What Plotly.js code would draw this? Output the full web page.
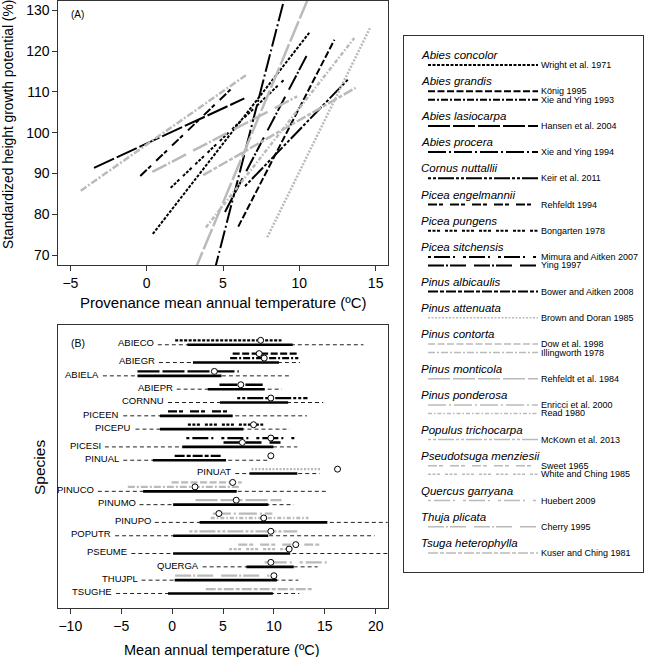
<!DOCTYPE html>
<html>
<head>
<meta charset="utf-8">
<script src="https://cdn.plot.ly/plotly-3.0.1.min.js"></script>
<style>
  body { margin: 0; background: #fff; }
  #plot { width: 650px; height: 657px; }
</style>
</head>
<body>
<div id="plot"></div>
<script>
// species (panel B rows, legend headers)
var speciesCodes = ['ABIECO', 'ABIEGR', 'ABIELA', 'ABIEPR', 'CORNNU', 'PICEEN', 'PICEPU', 'PICESI', 'PINUAL',
                    'PINUAT', 'PINUCO', 'PINUMO', 'PINUPO', 'POPUTR', 'PSEUME', 'QUERGA', 'THUJPL', 'TSUGHE'];
var speciesNames = ['Abies concolor', 'Abies grandis', 'Abies lasiocarpa', 'Abies procera', 'Cornus nuttallii',
                    'Picea engelmannii', 'Picea pungens', 'Picea sitchensis', 'Pinus albicaulis', 'Pinus attenuata',
                    'Pinus contorta', 'Pinus monticola', 'Pinus ponderosa', 'Populus trichocarpa',
                    'Pseudotsuga menziesii', 'Quercus garryana', 'Thuja plicata', 'Tsuga heterophylla'];

// species climate range (thin dashed) and core range (thick line), deg C
var rangeLo = [-1.4, -1.3, -6.8, 0.45, -0.4, -4.8, -3.6, -6.6, -4.8, 6.2, -7.3, -3.2, -1.7, -5.6, -4.0, 3.0, -3.0, -5.5];
var rangeHi = [18.8, 12.55, 11.75, 10.8, 14.85, 13.25, 11.55, 12.3, 9.55, 14.5, 15.1, 11.95, 22, 19.9, 22, 14.3, 12.4, 12.5];
var coreLo  = [1.5, 2.05, -3.4, 3.5, 4.7, -1.2, -1.2, 1.0, -1.9, 7.6, -2.85, 0.1, 2.7, 0.1, 0.1, 7.3, 0.25, -0.4];
var coreHi  = [11.85, 10.5, 4.85, 9.1, 11.4, 5.95, 7.0, 9.95, 5.3, 12.3, 6.35, 9.45, 15.25, 9.45, 11.6, 11.95, 10.3, 9.9];

// studies
var studies = ['Wright et al. 1971', 'König 1995', 'Xie and Ying 1993', 'Hansen et al. 2004', 'Xie and Ying 1994',
               'Keir et al. 2011', 'Rehfeldt 1994', 'Bongarten 1978', 'Mimura and Aitken 2007', 'Ying 1997',
               'Bower and Aitken 2008', 'Brown and Doran 1985', 'Dow et al. 1998', 'Illingworth 1978',
               'Rehfeldt et al. 1984', 'Enricci et al. 2000', 'Read 1980', 'McKown et al. 2013', 'Sweet 1965',
               'White and Ching 1985', 'Huebert 2009', 'Cherry 1995', 'Kuser and Ching 1981'];
var studySpecies = [0, 1, 1, 2, 3, 4, 5, 6, 7, 7, 8, 9, 10, 10, 11, 12, 12, 13, 14, 14, 15, 16, 17];
var studyLo  = [0.3, 5.95, 5.7, -3.4, 4.65, 6.4, -0.4, 1.55, 1.4, 5.05, 0.25, 7.8, -0.05, -4.35, 2.3, 4.0, 3.8, 1.7, 6.5, 5.6, 9.1, 0.3, 3.3];
var studyHi  = [10.75, 12.4, 12.4, 6.55, 8.9, 13.3, 5.5, 8.95, 12.15, 10.65, 4.85, 14.55, 6.85, 6.6, 10.75, 9.85, 13.4, 12.3, 14.7, 11.95, 15.2, 9.55, 13.85];
var studyOpt = [8.7, 8.55, 9.05, 4.15, 6.75, 9.7, null, 8.0, 9.7, 6.9, 9.7, 16.25, 5.95, 2.25, 6.3, 4.6, 9.0, 9.7, 12.15, 11.5, 9.7, 10.0, null];

// panel A: height growth response lines (study index, end points)
var respStudy = [0, 1, 3, 4, 5, 6, 7, 9, 11, 13, 14, 16, 22, 21];
var respX0 = [0.4, 6.0, -3.45, 4.4, 6.44, -0.42, 1.57, 5.13, 7.9, -4.32, 3.1, 3.88, 3.7, 0.37];
var respY0 = [75.2, 77.0, 91.4, 65.6, 86.9, 89.4, 86.5, 80.6, 74.4, 85.8, 65.8, 76.8, 89.6, 90.4];
var respX1 = [10.65, 12.3, 6.4, 9.05, 13.2, 5.5, 9.0, 10.58, 14.62, 6.5, 10.7, 13.6, 13.69, 9.86];
var respY1 = [124.5, 122.8, 108.4, 133.3, 113.1, 110.6, 113.0, 119.6, 125.6, 114.1, 134.0, 123.2, 111.0, 108.9];

// line styles, one per study
var dashes = ['3px,1.5px', '7px,2.5px', '7px,2px,2px,2px', '22px,3px', '18px,3px,2px,3px',
              '3px,2px,3px,2px,16px,2px', '9px,2px,4px,7px', '3px,1.5px,3px,1.5px,3px,5px',
              '3px,3px,16px,3px,2px,8px', '16px,2px,2px,2px,16px,8px', '10px,2px,4px,2px',
              '2px,1.5px', '7px,2.5px', '7px,2px,2px,2px', '22px,3px', '18px,3px,2px,3px',
              '4px,2px,1.5px,2px', '3px,2px,3px,2px,16px,2px', '9px,2px,4px,7px',
              '3px,1.5px,3px,1.5px,3px,5px', '3px,3px,16px,3px,2px,8px', '16px,2px,2px,2px,16px,8px',
              '10px,2px,4px,2px'];
function studyColor(j) { return j >= 11 ? '#bababa' : '#000000'; }

var FONT = 'Liberation Sans, Arial, Helvetica, sans-serif';
var data = [];
var annotations = [];

// ---- panel A ----
for (var k = 0; k < respStudy.length; k++) {
    var j = respStudy[k];
    data.push({
        x: [respX0[k], respX1[k]], y: [respY0[k], respY1[k]],
        xaxis: 'x', yaxis: 'y', mode: 'lines', hoverinfo: 'skip',
        line: {color: studyColor(j), width: j >= 11 ? 2.5 : 2, dash: dashes[j]}
    });
}

// ---- panel B ----
// row positions: one step per study line, species line under them, gap between species
var studyY = [], speciesY = [];
var pos = 0;
for (var i = 0; i < speciesCodes.length; i++) {
    for (var j = 0; j < studies.length; j++) {
        if (studySpecies[j] === i) { studyY[j] = pos; pos += 1; }
    }
    speciesY[i] = pos;
    pos += 2;
}

for (var i = 0; i < speciesCodes.length; i++) {
    data.push({
        x: [rangeLo[i], rangeHi[i]], y: [speciesY[i], speciesY[i]],
        xaxis: 'x2', yaxis: 'y2', mode: 'lines', hoverinfo: 'skip',
        line: {color: '#222', width: 1, dash: '4px,3px'}
    });
    data.push({
        x: [coreLo[i], coreHi[i]], y: [speciesY[i], speciesY[i]],
        xaxis: 'x2', yaxis: 'y2', mode: 'lines', hoverinfo: 'skip',
        line: {color: '#000', width: 2.6}
    });
    annotations.push({
        x: rangeLo[i], y: speciesY[i] - 0.4, xref: 'x2', yref: 'y2',
        text: speciesCodes[i], showarrow: false, xanchor: 'right', yanchor: 'middle', xshift: -2,
        font: {family: FONT, size: 9.5, color: '#000'}
    });
}

var optX = [], optY = [];
for (var j = 0; j < studies.length; j++) {
    data.push({
        x: [studyLo[j], studyHi[j]], y: [studyY[j], studyY[j]],
        xaxis: 'x2', yaxis: 'y2', mode: 'lines', hoverinfo: 'skip',
        line: {color: studyColor(j), width: 2.3, dash: dashes[j]}
    });
    if (studyOpt[j] !== null) { optX.push(studyOpt[j]); optY.push(studyY[j]); }
}
data.push({
    x: optX, y: optY, xaxis: 'x2', yaxis: 'y2', mode: 'markers', hoverinfo: 'skip', cliponaxis: false,
    marker: {symbol: 'circle', size: 6, color: '#fff', line: {color: '#000', width: 1}}
});

// ---- legend panel (drawn on a hidden axis pair measured in px) ----
var ly = 55;
var headerY = [], lineY = [];
for (var i = 0; i < speciesNames.length; i++) {
    headerY[i] = ly;
    ly += 10;
    for (var j = 0; j < studies.length; j++) {
        if (studySpecies[j] === i) { lineY[j] = ly; ly += 8.5; }
    }
    ly += 7.7;
}
for (var i = 0; i < speciesNames.length; i++) {
    annotations.push({
        x: 419, y: headerY[i], xref: 'x3', yref: 'y3', text: '<i>' + speciesNames[i] + '</i>',
        showarrow: false, xanchor: 'left', yanchor: 'middle',
        font: {family: FONT, size: 11.5, color: '#000'}
    });
}
for (var j = 0; j < studies.length; j++) {
    data.push({
        x: [428, 538], y: [lineY[j], lineY[j]], xaxis: 'x3', yaxis: 'y3',
        mode: 'lines', hoverinfo: 'skip',
        line: {color: studyColor(j), width: j >= 11 ? 1.5 : 2, dash: dashes[j]}
    });
    annotations.push({
        x: 540, y: lineY[j], xref: 'x3', yref: 'y3', text: studies[j],
        showarrow: false, xanchor: 'left', yanchor: 'middle', borderpad: 0,
        font: {family: FONT, size: 9, color: '#000'}
    });
}

// titles and panel tags
function paperText(txt, x, y, size, opts) {
    var a = {x: x / 650, y: 1 - y / 657, xref: 'paper', yref: 'paper', text: txt, showarrow: false,
             xanchor: 'center', yanchor: 'middle', font: {family: FONT, size: size, color: '#000'}};
    for (var key in (opts || {})) a[key] = opts[key];
    return a;
}
annotations.push(paperText('Standardized height growth potential (%)', 8, 125, 13.8, {textangle: -90}));
annotations.push(paperText('Provenance mean annual temperature (ºC)', 223, 303, 15));
annotations.push(paperText('Mean annual temperature (ºC)', 222, 650, 14.5));
annotations.push(paperText('Species', 39, 468, 15.5, {textangle: -90}));
annotations.push(paperText('(A)', 69, 14, 10, {xanchor: 'left'}));
annotations.push(paperText('(B)', 69, 343, 10.5, {xanchor: 'left'}));

var axisStyle = {
    showline: true, mirror: true, linecolor: '#333', linewidth: 1,
    showgrid: false, zeroline: false, ticks: 'outside', ticklen: 5, tickcolor: '#333',
    tickfont: {family: FONT, size: 14, color: '#000'}
};
function ax(extra) {
    var o = {};
    for (var k in axisStyle) o[k] = axisStyle[k];
    for (var k in extra) o[k] = extra[k];
    return o;
}

var layout = {
    width: 650, height: 657,
    margin: {l: 0, r: 0, t: 0, b: 0},
    paper_bgcolor: '#fff', plot_bgcolor: '#fff',
    showlegend: false,
    font: {family: FONT, color: '#000'},
    xaxis: ax({domain: [58.3 / 650, 387.7 / 650], range: [-5.79, 15.79], tickvals: [-5, 0, 5, 10, 15], anchor: 'y'}),
    yaxis: ax({domain: [1 - 265 / 657, 1 - 0.5 / 657], range: [67.6, 132.4], tickvals: [70, 80, 90, 100, 110, 120, 130], anchor: 'x'}),
    xaxis2: ax({domain: [58.3 / 650, 387.7 / 650], range: [-11.18, 21.18], tickvals: [-10, -5, 0, 5, 10, 15, 20], anchor: 'y2'}),
    yaxis2: ax({domain: [1 - 607.7 / 657, 1 - 325 / 657], range: [60.2, -3.45], ticks: '', showticklabels: false, anchor: 'x2'}),
    xaxis3: {domain: [404 / 650, 643 / 650], range: [404, 643], anchor: 'y3', showline: true, mirror: true,
             linecolor: '#333', linewidth: 1, showgrid: false, zeroline: false, showticklabels: false, ticks: ''},
    yaxis3: {domain: [1 - 572 / 657, 1 - 36 / 657], range: [572, 36], anchor: 'x3', showline: true, mirror: true,
             linecolor: '#333', linewidth: 1, showgrid: false, zeroline: false, showticklabels: false, ticks: ''},
    annotations: annotations
};

Plotly.newPlot('plot', data, layout, {displayModeBar: false, staticPlot: true});
</script>
</body>
</html>
